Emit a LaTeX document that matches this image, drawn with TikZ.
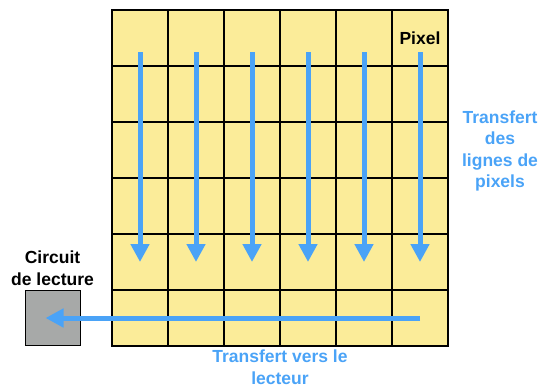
\documentclass[tikz,border=0pt]{standalone}
\usepackage{fontspec}
\setmainfont{Liberation Sans}
\usetikzlibrary{arrows.meta,positioning}
\definecolor{pixelyellow}{HTML}{FBEC99}
\definecolor{flowblue}{HTML}{4AA3F7}
\definecolor{readgray}{HTML}{A7A9A8}

\begin{document}
\begin{tikzpicture}[x=1pt,y=-1pt,
    cell/.style={draw,fill=pixelyellow,line width=1.3pt,minimum size=56pt,inner sep=0pt},
    flow/.style={flowblue,line width=5pt,-{Triangle[length=18pt,width=18pt]}},
    lbl/.style={font=\fontsize{17.5}{21.5}\selectfont\bfseries,align=center}]
    \useasboundingbox (0,0) rectangle (548,389);
    % pixel grid
    \foreach \i in {1,...,6}
      \foreach \j in {1,...,6}
        \node[cell] (c-\i-\j) at ({84+56*\i},{-18+56*\j}) {};
    \node[lbl] (pixel) at (c-6-1.center) {Pixel};
    % column transfer
    \foreach \i in {1,...,6}
      \draw[flow] ([yshift=-14pt]c-\i-1.center) -- (c-\i-5.center);
    % read-out circuit
    \node[draw,fill=readgray,line width=1pt,minimum size=55pt,inner sep=0pt] (circuit) at (52.5,318) {};
    \node[lbl,above=1pt of circuit] (circuitlbl) {Circuit\\de lecture};
    \draw[flow] (c-6-6.center) -- ([xshift=-7pt]circuit.center);
    \node[lbl,text=flowblue] (lines) at (500,151) {Transfert\\des\\lignes de\\pixels};
    \node[lbl,text=flowblue] (reader) at (280,367) {Transfert vers le\\lecteur};
\end{tikzpicture}
\end{document}
